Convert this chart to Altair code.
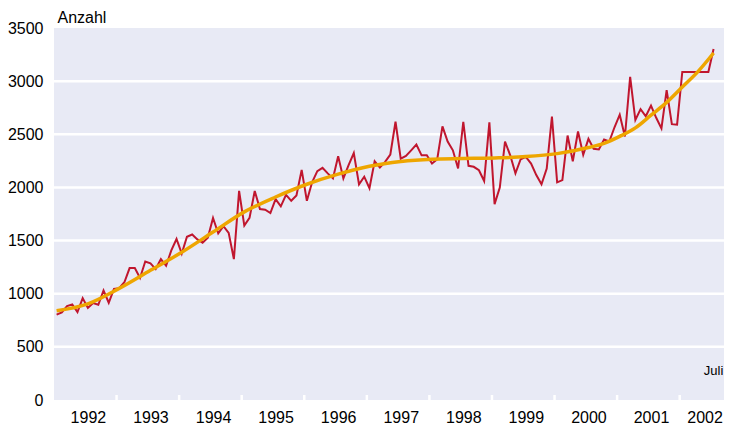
import altair as alt
import pandas as pd

first_year = 1992
# monthly values, Jan 1992 .. Jul 2002
values = [
    803, 825, 884, 900, 828, 959, 866, 912, 896, 1030, 915, 1045,
    1052, 1108, 1241, 1241, 1148, 1303, 1285, 1232, 1325, 1263, 1408, 1515,
    1378, 1536, 1557, 1511, 1480, 1527, 1713, 1567, 1635, 1573, 1325, 1967,
    1641, 1713, 1967, 1797, 1790, 1759, 1890, 1822, 1930, 1874, 1924, 2165,
    1874, 2048, 2153, 2184, 2132, 2085, 2293, 2085, 2209, 2324, 2029, 2101,
    1992, 2246, 2187, 2240, 2308, 2618, 2271, 2296, 2349, 2404, 2302, 2302,
    2225, 2265, 2575, 2432, 2349, 2178, 2618, 2203, 2194, 2162, 2060, 2612,
    1843, 1998, 2432, 2302, 2132, 2265, 2287, 2225, 2116, 2029, 2178, 2667,
    2048, 2069, 2488, 2246, 2526, 2308, 2457, 2364, 2358, 2451, 2432, 2566,
    2684, 2479, 3041, 2634, 2737, 2670, 2770, 2655, 2555, 2916, 2595, 2590,
    3087, 3087, 3087, 3087, 3087, 3087, 3302,
]
# trend curve read at these month indices
trend_month = [0, 6, 12, 18, 24, 30, 36, 42, 48, 54, 60, 66, 72, 78, 84, 90,
               96, 102, 105, 108, 111, 114, 117, 120, 123, 126]
trend_value = [840, 905, 1050, 1220, 1390, 1580, 1770, 1910, 2030, 2125, 2200,
               2245, 2266, 2272, 2278, 2290, 2318, 2375, 2415, 2480, 2560, 2680,
               2800, 2945, 3090, 3265]
years = list(range(1992, 2003))
grid_values = [500, 1000, 1500, 2000, 2500, 3000]
y_ticks = [0, 500, 1000, 1500, 2000, 2500, 3000, 3500]
note_text = "Juli"

FONT = "Liberation Sans"

df = pd.DataFrame({"t": [i + 0.5 for i in range(len(values))], "v": values})
trend_df = pd.DataFrame({"t": [m + 0.5 for m in trend_month], "v": trend_value})
grid_df = pd.DataFrame({"g": grid_values})
bounds_df = pd.DataFrame({"b": [(y - first_year) * 12 for y in years[1:]]})
note_df = pd.DataFrame({"t": [len(values) - 0.5], "label": [note_text]})

xscale = alt.Scale(domain=[0, 128.5], nice=False, zero=False)
yscale = alt.Scale(domain=[0, 3500], nice=False, zero=True)

xaxis = alt.Axis(
    values=[(y - first_year) * 12 + 6.5 for y in years],
    labelExpr="1992 + floor(datum.value / 12)",
    ticks=False, domain=False, grid=False, labelFlush=False,
    labelOffset={"condition": {"test": "datum.value > 120", "value": -9}, "value": 0},
    labelFontSize=16, labelColor="#000", labelPadding=9, title=None,
    labelFont=FONT,
)
yaxis = alt.Axis(
    values=y_ticks, format="d", ticks=False, domain=False, grid=False,
    labelFontSize=16, labelColor="#000", labelPadding=11, labelFont=FONT,
    title="Anzahl", titleAngle=0, titleX=3, titleY=-6, titleAlign="left",
    titleBaseline="alphabetic", titleFontSize=16, titleFontWeight="normal",
    titleColor="#000", titleFont=FONT,
)

X = lambda f: alt.X(f, type="quantitative", scale=xscale, axis=xaxis)
Y = lambda f: alt.Y(f, type="quantitative", scale=yscale, axis=yaxis)

grid = alt.Chart(grid_df).mark_rule(color="white", strokeWidth=2.5).encode(y=Y("g"))
ticks = alt.Chart(bounds_df).mark_rule(color="white", strokeWidth=2.5).encode(
    x=X("b"), y=alt.value(367), y2=alt.value(372)
)
line = alt.Chart(df).mark_line(color="#c0162e", strokeWidth=2).encode(x=X("t"), y=Y("v"))
trend = alt.Chart(trend_df).mark_line(
    color="#eea600", strokeWidth=3.5, interpolate="monotone"
).encode(x=X("t"), y=Y("v"))
note = alt.Chart(note_df).mark_text(
    fontSize=13, font=FONT, color="#000", align="center", baseline="middle"
).encode(x=X("t"), y=alt.value(343), text="label:N")

chart = (
    alt.layer(grid, ticks, line, trend, note)
    .properties(
        width=670, height=372,
        autosize=alt.AutoSizeParams(type="none"),
        padding={"left": 46, "top": 20, "right": 0, "bottom": 26},
    )
    .configure(font=FONT)
    .configure_view(fill="#e8eaf5", strokeWidth=0)
)

chart.save("out.html", embed_options={"renderer": "svg", "actions": False})
